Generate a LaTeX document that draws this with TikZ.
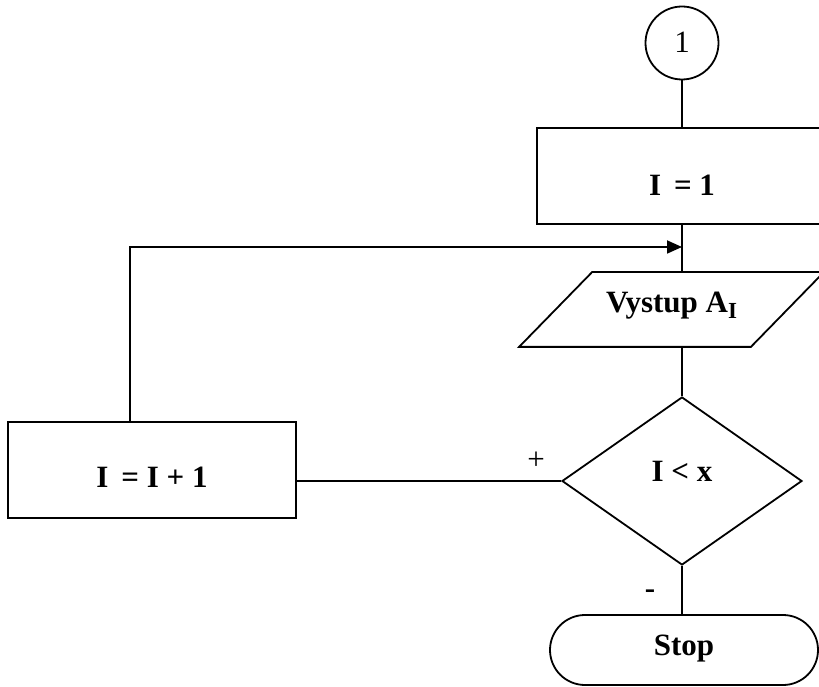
\documentclass[tikz,border=0pt]{standalone}
\usepackage{fontspec}
\setmainfont{Liberation Serif}
\usetikzlibrary{shapes.geometric,shapes.misc,arrows.meta,calc}
\begin{document}
\begin{tikzpicture}[x=1pt,y=1pt,
  line width=1.8pt,
  every node/.style={font=\fontsize{31}{36}\selectfont},
  every label/.style={font=\fontsize{31}{36}\selectfont\bfseries,inner sep=0pt},
  boxstyle/.style={draw,rectangle,inner sep=0pt},
  connector/.style={draw,circle,minimum size=73pt,inner sep=0pt},
  decision/.style={draw,diamond,minimum width=240pt,minimum height=168pt,inner sep=0pt},
  terminal/.style={draw,rounded rectangle,minimum width=268pt,minimum height=70pt,inner sep=0pt},
  tip/.style={-{Triangle[length=15pt,width=13pt]}}]
\useasboundingbox (0,0) rectangle (819,686);

% main column
\node[connector] (c1) at (682,643) {\raisebox{1pt}{1}};
\node[boxstyle,minimum width=290pt,minimum height=96pt,
  label={[yshift=-9pt]center:I \,= 1}] (b1) at (682,510) {};
\node[minimum width=230pt,minimum height=73pt,inner sep=0pt,
  label={[yshift=4pt]center:Vystup A\raisebox{-0.45ex}{\fontsize{23}{23}\selectfont I}}]
  (out) at (671.5,376.5) {};
\draw ($(out.north west)+(36.5,0)$) -- ($(out.north east)+(36.5,0)$)
   -- ($(out.south east)+(-36.5,0)$) -- ($(out.south west)+(-36.5,0)$) -- cycle;
\node[decision,label={[yshift=10pt]center:I < x}] (d) at (682,205) {};
\node[terminal,label={[yshift=1pt]center:Stop}] (stop) at (684,36) {};

% loop body
\node[boxstyle,minimum width=288pt,minimum height=96pt,
  label={[yshift=-7pt]center:I \,= I + 1}] (b2) at (152,216) {};

% connectors
\coordinate (turn) at (130,439);
\coordinate (join) at (682,439);
\draw (c1) -- (b1);
\draw (b1.south) -- (join);
\draw (join) -- (682,412.5);
\draw (682,339.5) -- (d.north);
\draw (d.south) -- (d.south |- stop.north);
\draw (d.west) -- (d.west -| b2.east);
\draw[tip] (b2.north -| turn) -- (turn) -- (join);

% branch labels
\node (plus) at (536,225) {+};
\node (minus) at (650,92) {\bfseries -};
\end{tikzpicture}
\end{document}
